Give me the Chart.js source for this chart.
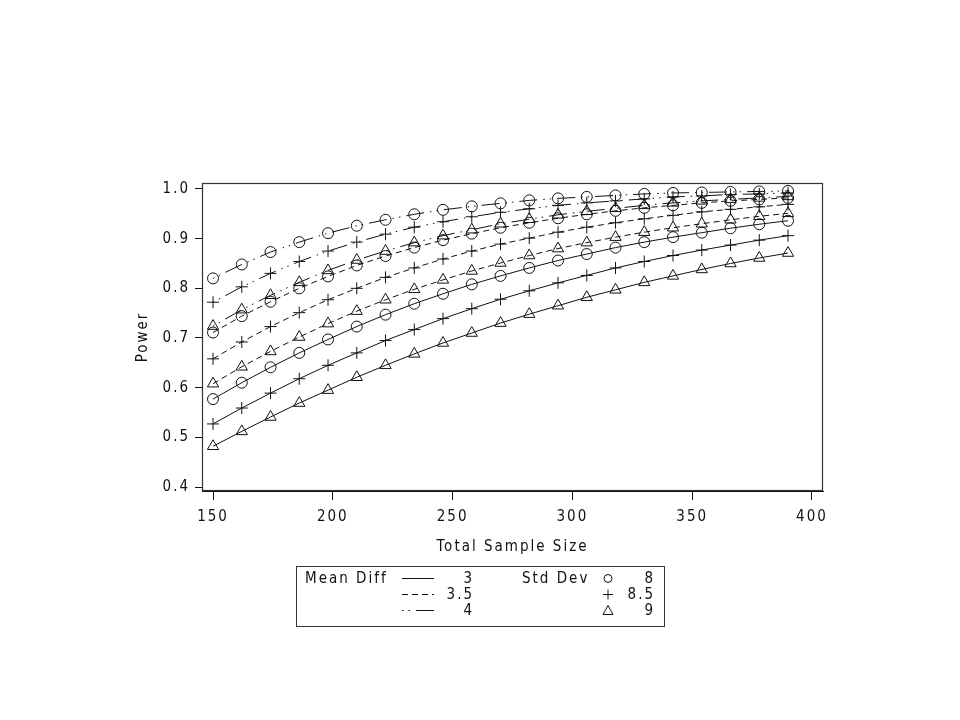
<!DOCTYPE html>
<html>
<head>
<meta charset="utf-8">
<script src="https://cdn.jsdelivr.net/npm/chart.js@4"></script>
<style>
html,body{margin:0;padding:0;background:#fff;}
#wrap{position:relative;width:960px;height:720px;overflow:hidden;}
#c{position:absolute;left:0;top:0;}
#legend{position:absolute;left:296px;top:566px;width:367px;height:59px;border:1px solid #333;
  font-family:'Liberation Sans Narrow','DejaVu Sans Condensed',sans-serif;font-size:15px;letter-spacing:2px;color:#111;}
.t{position:absolute;line-height:16px;height:16px;white-space:nowrap;}
.r{text-align:right;}
svg{position:absolute;}
</style>
</head>
<body>
<div id="wrap">
<canvas id="c" width="960" height="720"></canvas>
<div id="legend">
  <div class="t" style="left:8px;top:3px;">Mean Diff</div>
  <svg style="left:105px;top:3px;" width="34" height="16"><line x1="0" y1="8.5" x2="32" y2="8.5" stroke="#111" stroke-width="1"/></svg>
  <svg style="left:105px;top:19px;" width="34" height="16"><line x1="0" y1="8.5" x2="32" y2="8.5" stroke="#111" stroke-width="1" stroke-dasharray="6,4"/></svg>
  <svg style="left:105px;top:35px;" width="34" height="16"><line x1="0" y1="8.5" x2="32" y2="8.5" stroke="#111" stroke-width="1" stroke-dasharray="1.5,5,1.5,6,18,6"/></svg>
  <div class="t r" style="left:135px;width:42px;top:3px;">3</div>
  <div class="t r" style="left:135px;width:42px;top:19px;">3.5</div>
  <div class="t r" style="left:135px;width:42px;top:35px;">4</div>
  <div class="t" style="left:225px;top:3px;">Std Dev</div>
  <svg style="left:303px;top:3px;" width="16" height="16"><circle cx="8" cy="8.5" r="4" fill="none" stroke="#111" stroke-width="1"/></svg>
  <svg style="left:303px;top:19px;" width="16" height="16"><path d="M8 3.5 V13.5 M3 8.5 H13" stroke="#111" stroke-width="1" fill="none"/></svg>
  <svg style="left:303px;top:35px;" width="16" height="16"><path d="M8 3.5 L13 12.5 L3 12.5 Z" stroke="#111" stroke-width="1" fill="none"/></svg>
  <div class="t r" style="left:318px;width:40px;top:3px;">8</div>
  <div class="t r" style="left:318px;width:40px;top:19px;">8.5</div>
  <div class="t r" style="left:318px;width:40px;top:35px;">9</div>
</div>
</div>
<script>
// ---- data ----
const sampleSizes = [150,162,174,186,198,210,222,234,246,258,270,282,294,306,318,330,342,354,366,378,390];
const xTickValues = [150,200,250,300,350,400];
const yTickValues = [0.4,0.5,0.6,0.7,0.8,0.9,1.0];

const powMd3Sd8   = [0.577,0.610,0.641,0.670,0.697,0.723,0.747,0.769,0.789,0.808,0.825,0.841,0.856,0.869,0.882,0.893,0.903,0.912,0.921,0.929,0.936];
const powMd3Sd85  = [0.527,0.559,0.589,0.618,0.645,0.670,0.695,0.717,0.739,0.759,0.778,0.795,0.811,0.826,0.841,0.854,0.866,0.877,0.887,0.897,0.906];
const powMd3Sd9   = [0.482,0.512,0.541,0.569,0.595,0.621,0.645,0.668,0.690,0.710,0.730,0.748,0.765,0.782,0.797,0.812,0.825,0.838,0.850,0.861,0.871];
const powMd35Sd8  = [0.711,0.744,0.773,0.800,0.824,0.846,0.865,0.882,0.897,0.910,0.922,0.932,0.941,0.949,0.956,0.962,0.967,0.972,0.976,0.979,0.982];
const powMd35Sd85 = [0.658,0.692,0.723,0.751,0.777,0.800,0.822,0.841,0.859,0.875,0.889,0.901,0.913,0.923,0.932,0.940,0.947,0.954,0.959,0.964,0.969];
const powMd35Sd9  = [0.608,0.642,0.673,0.702,0.729,0.754,0.777,0.798,0.817,0.835,0.851,0.866,0.880,0.892,0.903,0.913,0.922,0.930,0.938,0.945,0.951];
const powMd4Sd8   = [0.820,0.848,0.873,0.893,0.911,0.926,0.938,0.949,0.958,0.965,0.971,0.977,0.981,0.984,0.987,0.990,0.992,0.993,0.994,0.995,0.996];
const powMd4Sd85  = [0.772,0.803,0.830,0.854,0.875,0.893,0.909,0.923,0.934,0.944,0.953,0.960,0.967,0.972,0.976,0.980,0.984,0.986,0.989,0.990,0.992];
const powMd4Sd9   = [0.724,0.757,0.786,0.812,0.836,0.857,0.875,0.892,0.906,0.918,0.930,0.939,0.948,0.955,0.961,0.967,0.972,0.976,0.979,0.982,0.985];

// ---- styling ----
const INK = '#111';
const FONT = {family:"'Liberation Sans Narrow','DejaVu Sans Condensed',sans-serif", size:15};
const dashByMd = {'3':[], '3.5':[6,4], '4':[1.5,5,1.5,6,18,6]};
const markerBySd = {'8':{style:'circle',r:5.5}, '8.5':{style:'cross',r:6}, '9':{style:'triangle',r:6.5}};

function series(md, sd, values){
  const m = markerBySd[sd];
  return {
    label: 'Mean Diff ' + md + ', Std Dev ' + sd,
    data: sampleSizes.map((n,i)=>({x:n, y:values[i]})),
    borderColor: INK, borderWidth: 1, borderDash: dashByMd[md],
    pointStyle: m.style, pointRadius: m.r, pointBorderColor: INK, pointBorderWidth: 1,
    pointBackgroundColor: 'rgba(0,0,0,0)', backgroundColor:'rgba(0,0,0,0)',
    tension: 0, fill:false, clip:false
  };
}

const datasets = [
  series('3','8',powMd3Sd8), series('3','8.5',powMd3Sd85), series('3','9',powMd3Sd9),
  series('3.5','8',powMd35Sd8), series('3.5','8.5',powMd35Sd85), series('3.5','9',powMd35Sd9),
  series('4','8',powMd4Sd8), series('4','8.5',powMd4Sd85), series('4','9',powMd4Sd9)
];

const spacingPlugin = {
  id:'spacing',
  beforeUpdate(c){ c.ctx.letterSpacing = '2px'; },
  beforeDraw(c){ c.ctx.letterSpacing = '2px'; }
};
const framePlugin = {
  id:'frame',
  afterDraw(c){
    const a = c.chartArea, ctx = c.ctx;
    ctx.save();
    ctx.strokeStyle = '#333'; ctx.lineWidth = 1.2; ctx.setLineDash([]);
    ctx.strokeRect(a.left+0.5, a.top+0.5, a.right-a.left-1, a.bottom-a.top-1);
    ctx.restore();
  }
};

new Chart(document.getElementById('c'), {
  type:'line',
  data:{datasets},
  plugins:[spacingPlugin, framePlugin],
  options:{
    responsive:false, animation:false, devicePixelRatio:1,
    layout:{padding:{left:130, top:183, right:137, bottom:160}},
    plugins:{legend:{display:false}, tooltip:{enabled:false}},
    scales:{
      x:{
        type:'linear', min:145.4, max:404.6,
        afterBuildTicks:s=>{ s.ticks = xTickValues.map(v=>({value:v})); },
        afterFit:s=>{ s.height = 69; },
        grid:{drawOnChartArea:false, drawTicks:true, tickLength:9, color:INK},
        border:{display:true, color:INK},
        ticks:{padding:8, color:INK, font:FONT, maxRotation:0, callback:v=>String(v)},
        title:{display:true, text:'Total Sample Size', color:INK, font:FONT, padding:{top:0,bottom:4}}
      },
      y:{
        type:'linear', min:0.392, max:1.012,
        afterBuildTicks:s=>{ s.ticks = yTickValues.map(v=>({value:v})); },
        afterFit:s=>{ s.width = 72; },
        grid:{drawOnChartArea:false, drawTicks:true, tickLength:7, color:INK},
        border:{display:true, color:INK},
        ticks:{padding:5, color:INK, font:FONT, callback:v=>Number(v).toFixed(1)},
        title:{display:true, text:'Power', color:INK, font:FONT, padding:{top:4,bottom:0}}
      }
    }
  }
});
</script>
</body>
</html>
